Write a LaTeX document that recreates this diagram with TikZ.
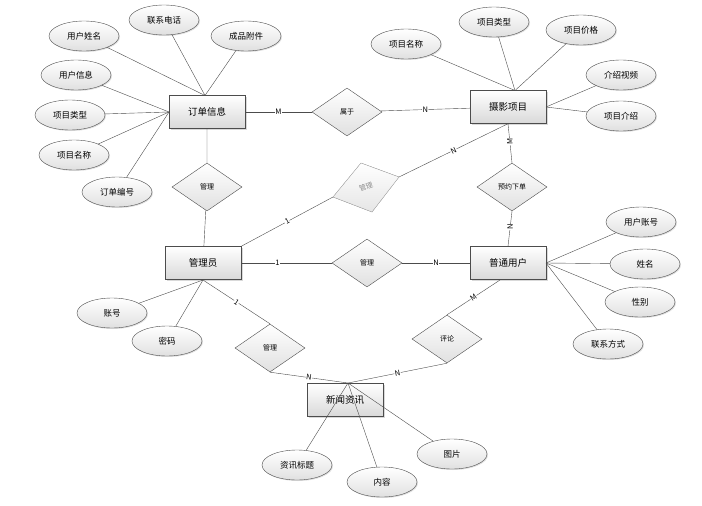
\documentclass[tikz,border=0pt]{standalone}
\usepackage{fontspec}
\setmainfont{Noto Sans CJK SC}
\usetikzlibrary{shapes.geometric,shadows}
\begin{document}
\begin{tikzpicture}[x=1pt,y=-1pt,font=\fontsize{8.5}{10}\selectfont,
 ent/.style={draw=black!70,minimum width=76pt,minimum height=33pt,top color=white,bottom color=black!15,drop shadow={opacity=0.3,shadow xshift=1.5pt,shadow yshift=-1.5pt},font=\fontsize{9.5}{11}\selectfont},
 rel/.style={diamond,draw=black!70,aspect=1.5,minimum width=70pt,minimum height=48pt,inner sep=0pt,top color=white,bottom color=black!12,font=\fontsize{7}{8}\selectfont},
 att/.style={ellipse,draw=black!70,minimum width=70pt,minimum height=30pt,inner sep=0pt,top color=white,bottom color=black!12,drop shadow={opacity=0.25,shadow xshift=1pt,shadow yshift=-1pt}},
 ln/.style={draw=black!70},
 lab/.style={fill=white,inner sep=0.5pt,font=\fontsize{7.5}{8}\selectfont}]
\useasboundingbox (0,0) rectangle (702,506);
% entities
\node[ent] (dd) at (207,112) {订单信息};
\node[ent] (sy) at (508,107) {摄影项目};
\node[ent] (gl) at (203,263) {管理员};
\node[ent] (pt) at (508,263) {普通用户};
\node[ent] (xw) at (345,400) {新闻资讯};
% relations
\node[rel] (sh) at (347,112) {属于};
\node[rel] (g1) at (207,187) {管理};
\coordinate (gL) at (333,197);
\coordinate (gR) at (399,177);
\fill[top color=white,bottom color=black!10,draw=black!30] (gL) -- (361,163) -- (gR) -- (372,212) -- cycle;
\node[rotate=20,text=black!45,font=\fontsize{7}{8}\selectfont] (g2) at (366,187) {管理};
\node[rel] (yy) at (512,187) {预约下单};
\node[rel] (g3) at (367,263) {管理};
\node[rel] (g4) at (270,348) {管理};
\node[rel] (pl) at (447,339) {评论};
% attributes
\node[att] (a1) at (84,36) {用户姓名};
\node[att] (a2) at (164,20) {联系电话};
\node[att] (a3) at (246,36) {成品附件};
\node[att] (a4) at (76,75) {用户信息};
\node[att] (a5) at (70,115) {项目类型};
\node[att] (a6) at (74,155) {项目名称};
\node[att] (a7) at (117,192) {订单编号};
\node[att] (b1) at (406,44) {项目名称};
\node[att] (b2) at (494,22) {项目类型};
\node[att] (b3) at (581,30) {项目价格};
\node[att] (b4) at (621,75) {介绍视频};
\node[att] (b5) at (621,116) {项目介绍};
\node[att] (c1) at (641,222) {用户账号};
\node[att] (c2) at (645,264) {姓名};
\node[att] (c3) at (640,302) {性别};
\node[att] (c4) at (608,344) {联系方式};
\node[att] (d1) at (112,313) {账号};
\node[att] (d2) at (167,341) {密码};
\node[att] (e1) at (297,465) {资讯标题};
\node[att] (e2) at (382,482) {内容};
\node[att] (e3) at (452,454) {图片};
% attribute lines
\coordinate (ddt) at (205,95.5);
\coordinate (ddl) at (169,112);
\foreach \a in {a1,a2,a3} \draw[ln] (\a) -- (ddt);
\foreach \a in {a4,a5,a6,a7} \draw[ln] (\a) -- (ddl);
\coordinate (syt) at (515,90.5);
\coordinate (syr) at (546,107);
\foreach \a in {b1,b2,b3} \draw[ln] (\a) -- (syt);
\foreach \a in {b4,b5} \draw[ln] (\a) -- (syr);
\coordinate (ptr) at (546,263);
\foreach \a in {c1,c2,c3,c4} \draw[ln] (\a) -- (ptr);
\coordinate (glb) at (203,280);
\foreach \a in {d1,d2} \draw[ln] (\a) -- (glb);
\coordinate (xwt) at (348,383);
\foreach \a in {e1,e2,e3} \draw[ln] (\a) -- (xwt);
% relationship lines
\draw[ln] (dd) -- node[lab,pos=0.5]{M} (sh);
\draw[ln] (sh) -- node[lab,pos=0.5]{N} (sy);
\draw[ln] (dd) -- (g1) -- (gl);
\draw[ln] (gl.north east) -- node[lab,sloped,pos=0.5]{1} (gL);
\draw[ln] (gR) -- node[lab,sloped,pos=0.5]{N} (sy.south);
\draw[ln] (sy.south) -- node[lab,rotate=90,pos=0.45]{M} (yy.north);
\draw[ln] (yy.south) -- node[lab,rotate=90,pos=0.45]{N} (pt.north);
\draw[ln] (gl) -- node[lab,pos=0.4]{1} (g3);
\draw[ln] (g3) -- node[lab,pos=0.5]{N} (pt);
\draw[ln] (glb) -- node[lab,sloped,pos=0.5]{1} (g4.north);
\draw[ln] (g4.south) -- node[lab,sloped,pos=0.5]{N} (xwt);
\draw[ln] (pl.south) -- node[lab,sloped,pos=0.5]{N} (xwt);
\draw[ln] (pl.north) -- node[lab,sloped,pos=0.5]{M} (500,280);
\end{tikzpicture}
\end{document}
